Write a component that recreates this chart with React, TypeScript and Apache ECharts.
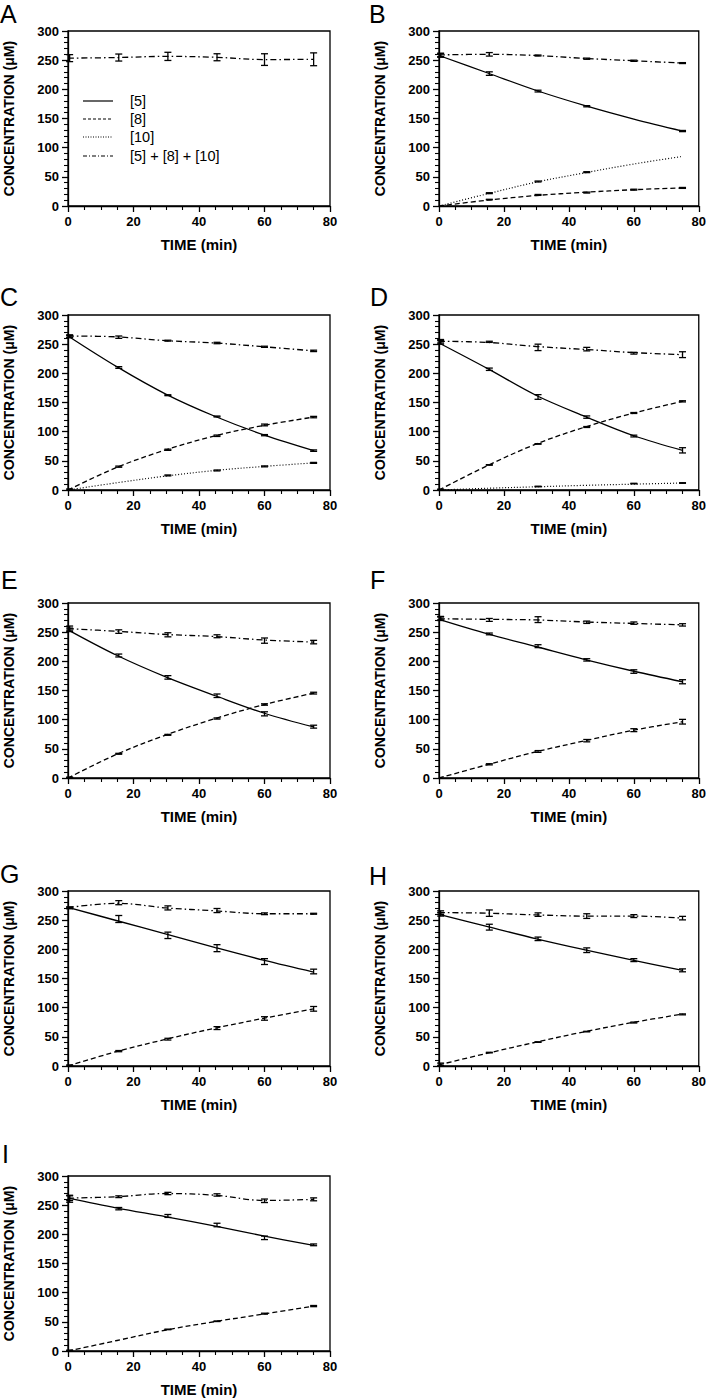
import React, { useEffect, useRef } from "react";
import * as echarts from "echarts";

const FONT = '"Liberation Sans", Arial, Helvetica, sans-serif';

// sample times (data points) and fit-curve times
const DATA_T = [0.5, 15.5, 30.5, 45.5, 60, 75];
const FIT_T = [0, 15, 30, 45, 60, 75];

const X_TICKS = [0, 20, 40, 60, 80];
const Y_TICKS = [0, 50, 100, 150, 200, 250, 300];

const LEGEND_LABELS = ["[5]", "[8]", "[10]", "[5] + [8] + [10]"];
const PANEL_LABELS = ["A", "B", "C", "D", "E", "F", "G", "H", "I"];

// ---- Panel A ----
const A_sum = [253.5, 254.5, 256.5, 255, 251, 251.5];
const A_sumErr = [6, 6, 7, 6, 10, 11];
const A_sumFit = [253.5, 254.5, 256.5, 255, 251, 251.5];

// ---- Panel B ----
const B_c5 = [258, 227, 197, 171, null, 128.5];
const B_c5Err = [3, 3, 1.5, 1, 0, 1];
const B_c5Fit = [258, 228, 198, 172, 149, 128.5];
const B_c8 = [null, 11, 19, 23, 28, 31];
const B_c8Err = [0, 0.5, 0.8, 0.8, 0.8, 0.8];
const B_c8Fit = [0, 10, 18, 23.5, 28, 31];
const B_c10 = [null, 22, 42, 58, null, null];
const B_c10Err = [0, 0.8, 0.8, 0.8, 0, 0];
const B_c10Fit = [0, 21, 41, 57, 72, 85];
const B_sum = [259, 260, 258, 252.5, 249, 245];
const B_sumErr = [3, 3, 0.8, 1, 1, 0.8];
const B_sumFit = [259, 260, 258, 253, 249, 245];

// ---- Panel C ----
const C_c5 = [263, 210, 162.5, 126, 94, 67.5];
const C_c5Err = [2, 1.5, 0.8, 0.8, 1, 1.2];
const C_c5Fit = [264, 211, 164, 126, 94, 67.5];
const C_c8 = [1, 40, 69, 93, 111.5, 125];
const C_c8Err = [0.8, 1, 1, 1.2, 1.5, 1.2];
const C_c8Fit = [0, 39, 69, 93, 111, 125];
const C_c10 = [null, null, 25, 33.5, 40.5, 46.5];
const C_c10Err = [0, 0, 0.8, 0.8, 0.8, 0.8];
const C_c10Fit = [0, 12.5, 24, 33.5, 40.5, 46.5];
const C_sum = [264, 262, 256, 252, 245.5, 238.5];
const C_sumErr = [2, 2, 0.8, 1.2, 1, 1.2];
const C_sumFit = [264, 262.5, 256, 252, 245.5, 238.5];

// ---- Panel D ----
const D_c5 = [253, 207, 159.5, 125, 92.5, 68];
const D_c5Err = [3, 2, 4, 2, 1.5, 4.5];
const D_c5Fit = [252, 208, 162, 126, 93, 68];
const D_c8 = [1, 43, 79, 108, 132, 152];
const D_c8Err = [0.5, 0.5, 0.5, 0.8, 0.8, 1];
const D_c8Fit = [0, 42, 79, 108, 132, 152];
const D_c10 = [null, null, 6, null, 11, 12];
const D_c10Err = [0, 0, 0.5, 0, 0.5, 0.5];
const D_c10Fit = [0, 3, 5.5, 8, 10, 12];
const D_sum = [255, 254, 244.5, 241.5, 234.5, 232];
const D_sumErr = [3, 1, 5.5, 3, 1.5, 5];
const D_sumFit = [255, 253, 246, 241, 235.5, 232];

// ---- Panel E ----
const E_c5 = [254, 210, 172.5, 141, 110, 88];
const E_c5Err = [3, 2.5, 3, 3, 3.5, 2.5];
const E_c5Fit = [254, 210, 173, 141, 111, 87.5];
const E_c8 = [1, 41.5, 74, 102, 126, 145.5];
const E_c8Err = [0.5, 0.8, 0.8, 1, 1.2, 1.5];
const E_c8Fit = [0, 41, 74, 102, 126, 145.5];
const E_sum = [257, 251, 245.5, 243, 235.5, 233];
const E_sumErr = [3.5, 3, 3.5, 2.5, 4.5, 3];
const E_sumFit = [256, 251.5, 246, 242.5, 236.5, 233];

// ---- Panel F ----
const F_c5 = [273, 247, 226, 202.5, 182.5, 165];
const F_c5Err = [3, 1.5, 2.5, 2, 3, 3.5];
const F_c5Fit = [272, 247, 225, 203, 183, 165];
const F_c8 = [null, 23.5, 45.5, 64, 82, 96.5];
const F_c8Err = [0, 1, 1.5, 2, 2.5, 4];
const F_c8Fit = [0, 23, 45, 64, 82, 96.5];
const F_sum = [274, 271, 271.5, 267, 265.5, 262.5];
const F_sumErr = [3, 2.5, 5, 2, 2, 2];
const F_sumFit = [273, 272, 271, 267.5, 265, 262.5];

// ---- Panel G ----
const G_c5 = [271, 252, 224, 202, 179, 162];
const G_c5Err = [1.5, 6, 5.5, 6, 5, 4];
const G_c5Fit = [272, 249, 226, 203, 181, 161];
const G_c8 = [1, 25.5, 46, 65, 81.5, 98];
const G_c8Err = [0.8, 1, 1.5, 2.5, 3, 4];
const G_c8Fit = [0, 25, 46, 65, 82, 98];
const G_sum = [271.5, 280, 271, 266.5, 261, 261];
const G_sumErr = [1, 3.5, 3.5, 3.5, 1.5, 0.8];
const G_sumFit = [271.5, 279, 271, 266, 261, 261];

// ---- Panel H ----
const H_c5 = [260, 238, 218, 198.5, 181.5, 164];
const H_c5Err = [3, 5, 3, 4, 2.5, 2.5];
const H_c5Fit = [260, 239, 218, 199, 181, 164];
const H_c8 = [3, 23, 41, 59, 74.5, 88.5];
const H_c8Err = [2, 0.5, 0.5, 0.5, 0.8, 0.8];
const H_c8Fit = [2, 22, 41, 59, 75, 89];
const H_sum = [263, 262, 259.5, 257, 257, 253.5];
const H_sumErr = [3, 5.5, 3, 4, 2.5, 3];
const H_sumFit = [263, 262, 259, 257, 257, 253.5];

// ---- Panel I ----
const I_c5 = [261, 244, 231.5, 216, 194, 182];
const I_c5Err = [6, 2, 2.5, 3, 3, 1.5];
const I_c5Fit = [262, 245, 230, 214, 197, 181];
const I_c8 = [1, null, 37, 51, 64, 77];
const I_c8Err = [0.5, 0, 0.5, 0.5, 0.8, 1];
const I_c8Fit = [0, 18, 36, 50.5, 63.5, 77];
const I_sum = [262, 264.5, 270, 267.5, 257.5, 260];
const I_sumErr = [4, 1.5, 2, 2, 3, 2.5];
const I_sumFit = [262, 264.5, 270, 267, 258, 260];

type Curve = { kind: "c5" | "c8" | "c10" | "sum"; mean: (number | null)[]; err: number[]; fit: number[] };

const PANEL_CURVES: Curve[][] = [
  [{ kind: "sum", mean: A_sum, err: A_sumErr, fit: A_sumFit }],
  [
    { kind: "c5", mean: B_c5, err: B_c5Err, fit: B_c5Fit },
    { kind: "c8", mean: B_c8, err: B_c8Err, fit: B_c8Fit },
    { kind: "c10", mean: B_c10, err: B_c10Err, fit: B_c10Fit },
    { kind: "sum", mean: B_sum, err: B_sumErr, fit: B_sumFit },
  ],
  [
    { kind: "c5", mean: C_c5, err: C_c5Err, fit: C_c5Fit },
    { kind: "c8", mean: C_c8, err: C_c8Err, fit: C_c8Fit },
    { kind: "c10", mean: C_c10, err: C_c10Err, fit: C_c10Fit },
    { kind: "sum", mean: C_sum, err: C_sumErr, fit: C_sumFit },
  ],
  [
    { kind: "c5", mean: D_c5, err: D_c5Err, fit: D_c5Fit },
    { kind: "c8", mean: D_c8, err: D_c8Err, fit: D_c8Fit },
    { kind: "c10", mean: D_c10, err: D_c10Err, fit: D_c10Fit },
    { kind: "sum", mean: D_sum, err: D_sumErr, fit: D_sumFit },
  ],
  [
    { kind: "c5", mean: E_c5, err: E_c5Err, fit: E_c5Fit },
    { kind: "c8", mean: E_c8, err: E_c8Err, fit: E_c8Fit },
    { kind: "sum", mean: E_sum, err: E_sumErr, fit: E_sumFit },
  ],
  [
    { kind: "c5", mean: F_c5, err: F_c5Err, fit: F_c5Fit },
    { kind: "c8", mean: F_c8, err: F_c8Err, fit: F_c8Fit },
    { kind: "sum", mean: F_sum, err: F_sumErr, fit: F_sumFit },
  ],
  [
    { kind: "c5", mean: G_c5, err: G_c5Err, fit: G_c5Fit },
    { kind: "c8", mean: G_c8, err: G_c8Err, fit: G_c8Fit },
    { kind: "sum", mean: G_sum, err: G_sumErr, fit: G_sumFit },
  ],
  [
    { kind: "c5", mean: H_c5, err: H_c5Err, fit: H_c5Fit },
    { kind: "c8", mean: H_c8, err: H_c8Err, fit: H_c8Fit },
    { kind: "sum", mean: H_sum, err: H_sumErr, fit: H_sumFit },
  ],
  [
    { kind: "c5", mean: I_c5, err: I_c5Err, fit: I_c5Fit },
    { kind: "c8", mean: I_c8, err: I_c8Err, fit: I_c8Fit },
    { kind: "sum", mean: I_sum, err: I_sumErr, fit: I_sumFit },
  ],
];

// layout (pixels)
const GRIDS = [
  { left: 68, top: 31 },
  { left: 439, top: 31 },
  { left: 68, top: 315 },
  { left: 439, top: 315 },
  { left: 68, top: 603 },
  { left: 439, top: 603 },
  { left: 68, top: 891 },
  { left: 439, top: 891 },
  { left: 68, top: 1176 },
];
const GRID_W = 262;
const GRID_H = 175;
const LETTER_POS = [
  { x: 0, y: 1 },
  { x: 369, y: 1 },
  { x: 0, y: 284 },
  { x: 370, y: 284 },
  { x: 1, y: 567 },
  { x: 370, y: 567 },
  { x: 0, y: 861 },
  { x: 369, y: 863 },
  { x: 2, y: 1141 },
];

const STROKE = "#000";
const DASH: Record<string, any> = {
  c5: "solid",
  c8: [5, 3],
  c10: [1, 2],
  sum: [6, 3, 1.5, 3],
};
const LEGEND_DASH: any[] = ["solid", [3, 2], [1, 1.5], [4, 2, 1, 2]];

function errorBarRender(params: any, api: any) {
  const x = api.value(0);
  const m = api.value(1);
  const e = api.value(2);
  const top = api.coord([x, m + e]);
  const bot = api.coord([x, m - e]);
  const hw = 3.5;
  const style = { stroke: STROKE, lineWidth: 1.3, fill: "none" };
  return {
    type: "group",
    children: [
      { type: "line", shape: { x1: top[0], y1: top[1], x2: bot[0], y2: bot[1] }, style },
      { type: "line", shape: { x1: top[0] - hw, y1: top[1], x2: top[0] + hw, y2: top[1] }, style },
      { type: "line", shape: { x1: bot[0] - hw, y1: bot[1], x2: bot[0] + hw, y2: bot[1] }, style },
    ],
  };
}

function buildOption() {
  const grid: any[] = [];
  const xAxis: any[] = [];
  const yAxis: any[] = [];
  const series: any[] = [];
  const graphic: any[] = [];

  const labelStyle = { color: "#000", fontFamily: FONT, fontWeight: "bold", fontSize: 13 };

  GRIDS.forEach((g, i) => {
    grid.push({
      left: g.left,
      top: g.top,
      width: GRID_W + (g.left > 300 ? 1 : 0),
      height: GRID_H,
      show: true,
      borderColor: STROKE,
      borderWidth: 1.3,
      backgroundColor: "transparent",
      containLabel: false,
    });
    xAxis.push({
      gridIndex: i,
      type: "value",
      min: X_TICKS[0],
      max: X_TICKS[X_TICKS.length - 1],
      interval: X_TICKS[1] - X_TICKS[0],
      axisLine: { show: true, onZero: false, lineStyle: { color: STROKE, width: 1.3 } },
      axisTick: { show: true, length: 6, lineStyle: { color: STROKE, width: 1.3 } },
      minorTick: { show: true, splitNumber: 4, length: 4, lineStyle: { color: STROKE, width: 1.1 } },
      splitLine: { show: false },
      minorSplitLine: { show: false },
      axisLabel: { ...labelStyle, margin: 9 },
      name: "TIME (min)",
      nameLocation: "middle",
      nameGap: 31,
      nameTextStyle: { color: "#000", fontFamily: FONT, fontWeight: "bold", fontSize: 15 },
    });
    yAxis.push({
      gridIndex: i,
      type: "value",
      min: Y_TICKS[0],
      max: Y_TICKS[Y_TICKS.length - 1],
      interval: Y_TICKS[1] - Y_TICKS[0],
      axisLine: { show: true, onZero: false, lineStyle: { color: STROKE, width: 1.3 } },
      axisTick: { show: true, length: 6, lineStyle: { color: STROKE, width: 1.3 } },
      minorTick: { show: true, splitNumber: 5, length: 4, lineStyle: { color: STROKE, width: 1.1 } },
      splitLine: { show: false },
      minorSplitLine: { show: false },
      axisLabel: { ...labelStyle, margin: 9 },
      name: "CONCENTRATION (μM)",
      nameLocation: "middle",
      nameGap: 52,
      nameRotate: 90,
      nameTextStyle: { color: "#000", fontFamily: FONT, fontWeight: "bold", fontSize: 14 },
    });

    PANEL_CURVES[i].forEach((c) => {
      series.push({
        type: "line",
        xAxisIndex: i,
        yAxisIndex: i,
        data: FIT_T.map((t, k) => [t, c.fit[k]]),
        showSymbol: false,
        symbol: "none",
        smooth: 0.35,
        lineStyle: { color: STROKE, width: c.kind === "c10" ? 1.2 : 1.3, type: DASH[c.kind] },
        silent: true,
        z: 2,
      });
      const pts: any[] = [];
      DATA_T.forEach((t, k) => {
        const m = c.mean[k];
        if (m !== null && m !== undefined) pts.push([t, m, c.err[k]]);
      });
      series.push({
        type: "custom",
        xAxisIndex: i,
        yAxisIndex: i,
        data: pts,
        encode: { x: 0, y: 1 },
        renderItem: errorBarRender,
        silent: true,
        z: 3,
      });
    });

    graphic.push({
      type: "text",
      left: LETTER_POS[i].x,
      top: LETTER_POS[i].y,
      style: { text: PANEL_LABELS[i], fill: "#000", font: `25px ${FONT}` },
    });
  });

  // legend inside panel A
  const legendRows = [101, 119, 137, 156];
  LEGEND_LABELS.forEach((lab, k) => {
    graphic.push({
      type: "line",
      shape: { x1: 83, y1: legendRows[k], x2: 113, y2: legendRows[k] },
      style: { stroke: STROKE, lineWidth: 1.2, lineDash: LEGEND_DASH[k] === "solid" ? null : LEGEND_DASH[k] },
      z: 10,
    });
    graphic.push({
      type: "text",
      x: 130,
      y: legendRows[k],
      style: {
        text: lab,
        fill: "#000",
        font: `14.5px ${FONT}`,
        textVerticalAlign: "middle",
        verticalAlign: "middle",
      },
      z: 10,
    });
  });

  return {
    animation: false,
    backgroundColor: "#fff",
    grid,
    xAxis,
    yAxis,
    series,
    graphic,
  };
}

export default function App() {
  const ref = useRef<HTMLDivElement>(null);
  useEffect(() => {
    document.body.style.margin = "0";
    if (!ref.current) return;
    const chart = echarts.init(ref.current, undefined, { renderer: "svg" });
    chart.setOption(buildOption() as any);
    return () => chart.dispose();
  }, []);
  return <div ref={ref} style={{ width: 709, height: 1399 }} />;
}
